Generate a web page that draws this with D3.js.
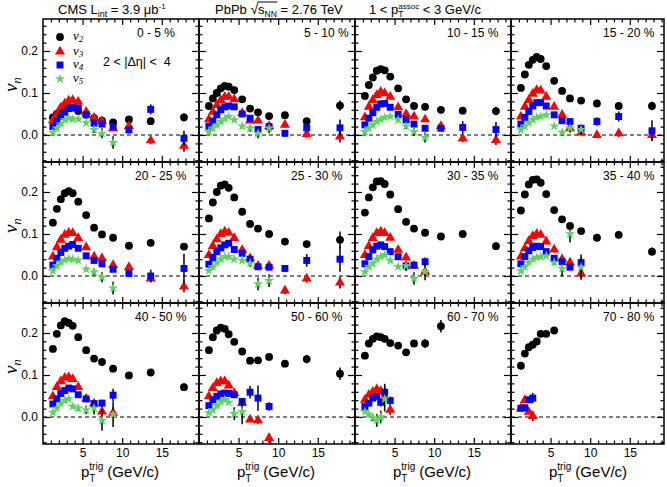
<!DOCTYPE html>
<html><head><meta charset="utf-8">
<script src="https://cdn.jsdelivr.net/npm/d3@7/dist/d3.min.js"></script>
<style>
html,body{margin:0;padding:0;background:#fff;}
svg{display:block;}
text{white-space:pre;}
</style></head><body>
<svg id="chart" width="667" height="487"></svg>
<script>
// ---------------- DATA ----------------
const pT = [1.25, 1.75, 2.25, 2.75, 3.25, 3.75, 4.45, 5.45, 6.45, 7.45, 8.85, 10.85, 13.6, 17.8];
const centralities = ["0 - 5 %","5 - 10 %","10 - 15 %","15 - 20 %","20 - 25 %","25 - 30 %",
                      "30 - 35 %","35 - 40 %","40 - 50 %","50 - 60 %","60 - 70 %","70 - 80 %"];
const xMajorTicks = [5, 10, 15];
const xTickLabels = ["5", "10", "15"];
const yMajorTicks = [0.0, 0.1, 0.2];
const yTickLabels = ["0.0", "0.1", "0.2"];
const seriesNames = ["2", "3", "4", "5"];

const v2 = [
 [0.042,0.050,0.058,0.063,0.066,0.065,0.057,0.048,0.040,0.034,0.030,0.037,0.033,0.042],
 [0.069,0.087,0.100,0.111,0.117,0.115,0.107,0.085,0.063,0.054,0.045,0.047,0.033,0.070],
 [0.093,0.119,0.137,0.153,0.157,0.154,0.139,0.111,0.085,0.069,0.067,0.060,0.058,0.057],
 [0.112,0.144,0.167,0.179,0.186,0.181,0.164,0.129,0.105,0.087,0.082,0.075,0.069,0.069],
 [0.127,0.160,0.183,0.197,0.202,0.197,0.177,0.145,0.115,0.099,0.091,0.072,0.079,0.070],
 [0.137,0.175,0.200,0.215,0.218,0.210,0.187,0.153,0.124,0.113,0.100,0.082,0.076,0.086],
 [0.151,0.187,0.211,0.225,0.226,0.219,0.194,0.159,0.129,0.113,0.103,0.094,0.100,0.071],
 [0.156,0.194,0.218,0.229,0.230,0.222,0.195,0.157,0.135,0.119,0.107,0.091,0.098,0.058],
 [0.162,0.198,0.218,0.228,0.224,0.217,0.190,0.159,0.139,0.131,0.115,0.099,0.106,0.071],
 [0.159,0.190,0.206,0.213,0.210,0.197,0.179,0.156,0.134,0.135,0.143,0.127,0.138,0.103],
 [0.146,0.175,0.186,0.192,0.190,0.186,0.176,0.170,0.154,0.175,0.175,0.216],
 [0.122,0.151,0.166,0.172,0.180,0.198,0.198,0.206]
];
const v2err = [
 [0,0,0,0,0,0,0,0.002,0.003,0.004,0.006,0.006,0.008,0.010],
 [0,0,0,0,0,0,0,0.002,0.003,0.004,0.005,0.006,0.007,0.012],
 [0,0,0,0,0,0,0,0.002,0.003,0.004,0.005,0.006,0.007,0.010],
 [0,0,0,0,0,0,0,0.002,0.003,0.004,0.005,0.006,0.008,0.010],
 [0,0,0,0,0,0,0,0.002,0.003,0.004,0.005,0.006,0.007,0.008],
 [0,0,0,0,0,0,0,0.002,0.003,0.004,0.005,0.006,0.008,0.020],
 [0,0,0,0,0,0,0,0.002,0.003,0.004,0.005,0.006,0.006,0.008],
 [0,0,0,0,0,0,0,0.002,0.003,0.006,0.005,0.006,0.006,0.010],
 [0,0,0,0,0,0,0,0.002,0.003,0.004,0.005,0.005,0.006,0.009],
 [0,0,0,0,0,0,0,0.003,0.004,0.005,0.006,0.007,0.010,0.015],
 [0,0,0,0,0,0,0.003,0.004,0.006,0.008,0.010,0.015],
 [0,0,0,0,0,0,0,0.008]
];
const v3 = [
 [0.035,0.050,0.065,0.075,0.082,0.083,0.079,0.055,0.041,0.033,0.016,0.021,-0.013,-0.026],
 [0.037,0.055,0.071,0.083,0.091,0.091,0.085,0.052,0.034,0.034,0.021,0.024,0.002,-0.004],
 [0.042,0.067,0.083,0.095,0.103,0.099,0.091,0.066,0.050,0.044,0.037,0.021,-0.008,-0.012],
 [0.044,0.067,0.083,0.098,0.107,0.106,0.091,0.067,0.048,0.016,0.006,0.000,0.004,0.000],
 [0.046,0.068,0.086,0.098,0.103,0.102,0.090,0.068,0.046,0.042,0.026,0.021,-0.006,-0.025],
 [0.050,0.071,0.087,0.100,0.106,0.103,0.090,0.062,0.042,0.024,0.024,-0.035,-0.006,-0.016],
 [0.050,0.071,0.090,0.102,0.106,0.102,0.091,0.062,0.044,0.024,0.010],
 [0.046,0.066,0.083,0.095,0.100,0.098,0.082,0.063,0.040,0.032,0.006],
 [0.049,0.071,0.085,0.093,0.095,0.090,0.071,0.043,0.032,0.013,0.010],
 [0.049,0.069,0.081,0.085,0.085,0.075,0.057,0.033,-0.006,-0.008,-0.050],
 [0.041,0.053,0.060,0.066,0.062,0.049,0.017],
 [0.020,0.040,0.012,0.002]
];
const v3err = [
 [0,0,0,0,0,0,0,0.002,0.003,0.004,0.006,0.007,0.009,0.014],
 [0,0,0,0,0,0,0,0.002,0.003,0.004,0.006,0.007,0.008,0.014],
 [0,0,0,0,0,0,0,0.003,0.004,0.005,0.006,0.007,0.009,0.012],
 [0,0,0,0,0,0,0,0.003,0.004,0.005,0.006,0.007,0.009,0.012],
 [0,0,0,0,0,0,0,0.003,0.004,0.005,0.006,0.007,0.009,0.014],
 [0,0,0,0,0,0,0,0.003,0.004,0.006,0.007,0.008,0.010,0.014],
 [0,0,0,0,0,0,0,0.003,0.005,0.007,0.010],
 [0,0,0,0,0,0,0,0.003,0.005,0.007,0.012],
 [0,0,0,0,0,0,0,0.003,0.005,0.015,0.012],
 [0,0,0,0,0,0,0,0.004,0.006,0.008,0.012],
 [0,0,0,0.005,0.008,0.010,0.012],
 [0,0,0.005,0.012]
];
const v4 = [
 [0.020,0.032,0.044,0.054,0.063,0.066,0.064,0.049,0.028,0.026,0.020,0.012,0.061,-0.008],
 [0.021,0.033,0.048,0.060,0.067,0.069,0.067,0.050,0.040,0.013,0.020,0.004,0.017,0.017],
 [0.024,0.040,0.053,0.066,0.074,0.075,0.066,0.049,0.036,0.026,0.016,0.016,0.018,0.013],
 [0.026,0.042,0.056,0.069,0.077,0.077,0.069,0.048,0.034,0.032,0.016,0.032,0.044,0.010],
 [0.026,0.042,0.056,0.066,0.071,0.075,0.066,0.048,0.037,0.029,0.016,0.006,0.000,0.018],
 [0.028,0.044,0.058,0.067,0.074,0.078,0.063,0.054,0.040,0.022,0.021,0.018,0.037,0.040],
 [0.029,0.046,0.062,0.071,0.074,0.070,0.058,0.046,0.024,0.026,0.034],
 [0.029,0.046,0.060,0.068,0.071,0.070,0.058,0.042,0.034,0.021,0.032],
 [0.031,0.043,0.056,0.063,0.069,0.067,0.053,0.043,0.032,0.033,0.052],
 [0.027,0.041,0.049,0.055,0.057,0.056,0.053,0.037,0.059,0.045,0.025],
 [0.025,0.033,0.045,0.049,0.035,0.059,0.039],
 [0.021,0.022,0.041,0.045]
];
const v4err = [
 [0,0,0,0,0,0,0,0.003,0.004,0.005,0.007,0.008,0.012,0.018],
 [0,0,0,0,0,0,0,0.003,0.004,0.005,0.008,0.008,0.010,0.020],
 [0,0,0,0,0,0,0,0.003,0.004,0.005,0.006,0.007,0.015,0.018],
 [0,0,0,0,0,0,0,0.003,0.004,0.006,0.007,0.010,0.012,0.025],
 [0,0,0,0,0,0,0,0.003,0.004,0.005,0.006,0.008,0.015,0.035],
 [0,0,0,0,0,0,0,0.003,0.004,0.006,0.007,0.008,0.015,0.030],
 [0,0,0,0,0,0,0,0.003,0.005,0.007,0.010],
 [0,0,0,0,0,0,0,0.003,0.005,0.006,0.012],
 [0,0,0,0,0,0,0,0.004,0.006,0.008,0.015],
 [0,0,0,0,0,0,0,0.008,0.015,0.030,0.010],
 [0,0,0.003,0.005,0.010,0.020,0.010],
 [0,0,0.005,0.012]
];
const v5 = [
 [0.006,0.016,0.026,0.036,0.040,0.038,0.038,0.029,0.013,0.004,-0.018],
 [0.008,0.016,0.024,0.032,0.038,0.044,0.036,0.021,0.016,0.004,0.016],
 [0.008,0.016,0.024,0.032,0.037,0.042,0.044,0.036,0.021,0.008,-0.006],
 [0.012,0.021,0.029,0.037,0.042,0.044,0.048,0.021,0.006,0.016,0.013],
 [0.012,0.024,0.033,0.038,0.041,0.040,0.037,0.016,0.010,-0.003,-0.029],
 [0.013,0.022,0.032,0.040,0.046,0.046,0.040,0.037,0.030,-0.019,-0.011],
 [0.010,0.022,0.030,0.040,0.046,0.050,0.037,0.022,0.024,-0.006,0.010],
 [0.012,0.022,0.032,0.040,0.044,0.046,0.048,0.032,0.018,0.100,0.021],
 [0.011,0.021,0.032,0.039,0.043,0.025,0.021,0.017,0.021,-0.008,0.006],
 [0.010,0.017,0.027,0.037,0.041,0.035,0.008,0.013],
 [0.013,0.006,-0.002,-0.008,0.000,0.043],
 []
];
const v5err = [
 [0,0,0,0,0,0,0,0.005,0.008,0.012,0.015],
 [0,0,0,0,0,0,0,0.005,0.008,0.012,0.012],
 [0,0,0,0,0,0,0,0.004,0.007,0.010,0.012],
 [0,0,0,0,0,0,0,0.004,0.007,0.010,0.012],
 [0,0,0,0,0,0,0,0.005,0.008,0.012,0.015],
 [0,0,0,0,0,0,0,0.005,0.008,0.015,0.015],
 [0,0,0,0,0,0,0,0.005,0.012,0.015,0.020],
 [0,0,0,0,0,0,0,0.006,0.018,0.020,0.030],
 [0,0,0,0,0,0,0.006,0.010,0.015,0.025,0.030],
 [0,0,0,0,0,0,0.015,0.030],
 [0,0.004,0.008,0.015,0.015,0.030],
 []
];

// ---------------- LAYOUT ----------------
const SANS = '"Liberation Sans", Arial, Helvetica, sans-serif';
const SERIF = '"Liberation Serif", "Times New Roman", serif';
const colEdges = [43, 199, 355, 511, 664];
const rowEdges = [19, 162, 303, 444];
const pxPerGeV = 7.92, pxPerUnit = 420, yLow = -0.0643;

const series = [
  {vals: v2, errs: v2err, sym: d3.symbolCircle,   size: 48, color: "#000000"},
  {vals: v3, errs: v3err, sym: d3.symbolTriangle, size: 44, color: "#ff0000"},
  {vals: v4, errs: v4err, sym: d3.symbolSquare,   size: 48, color: "#0000ff"},
  {vals: v5, errs: v5err, sym: d3.symbolStar,     size: 32, color: "#5fd35f"}
];

const svg = d3.select("#chart");
svg.append("rect").attr("width", 667).attr("height", 487).attr("fill", "#fff");

function rich(parent, x, y, pieces, anchor) {
  const g = parent.append("g");
  let cx = 0, pend = 0;
  const info = [];
  pieces.forEach(p => {
    const t = g.append("text").attr("x", cx).attr("y", p.dy || 0)
      .attr("xml:space", "preserve")
      .attr("font-size", p.fs).attr("font-family", p.fam || SANS)
      .attr("font-style", p.it ? "italic" : "normal").attr("fill", "#000")
      .text(p.t);
    const w = t.node().getComputedTextLength();
    info.push({x: cx, w: w, node: t.node()});
    if (p.hold) pend = Math.max(pend, w);
    else { cx += Math.max(w, pend); pend = 0; }
  });
  const dx = anchor === "middle" ? -cx / 2 : anchor === "end" ? -cx : 0;
  g.attr("transform", `translate(${x + dx},${y})`);
  return {g, info, dx};
}

const isMajor = (v, step) => Math.abs(v / step - Math.round(v / step)) < 1e-6;

centralities.forEach((lab, i) => {
  const c = i % 4, r = Math.floor(i / 4);
  const x0 = colEdges[c], x1 = colEdges[c + 1], y0 = rowEdges[r], y1 = rowEdges[r + 1];
  const x = d3.scaleLinear().domain([0, (x1 - x0) / pxPerGeV]).range([x0, x1]);
  const y = d3.scaleLinear().domain([yLow, yLow + (y1 - y0) / pxPerUnit]).range([y1, y0]);
  const g = svg.append("g");

  const clipId = "clip" + i;
  g.append("clipPath").attr("id", clipId).append("rect")
    .attr("x", x0).attr("y", y0).attr("width", x1 - x0).attr("height", y1 - y0);

  // zero line
  g.append("line").attr("x1", x0).attr("x2", x1).attr("y1", y(0)).attr("y2", y(0))
    .attr("stroke", "#000").attr("stroke-width", 1.1).attr("stroke-dasharray", "4,3");

  const plot = g.append("g").attr("clip-path", `url(#${clipId})`);
  series.forEach(s => {
    const vals = s.vals[i], errs = s.errs[i];
    const pts = vals.map((v, k) => ({x: pT[k], v: v, e: errs[k] || 0})).filter(d => d.v !== null);
    const sg = plot.append("g");
    sg.selectAll("line.err").data(pts.filter(d => d.e > 0)).join("line")
      .attr("x1", d => x(d.x)).attr("x2", d => x(d.x))
      .attr("y1", d => y(d.v - d.e)).attr("y2", d => y(d.v + d.e))
      .attr("stroke", "#000").attr("stroke-width", 1.5);
    sg.selectAll("path").data(pts).join("path")
      .attr("d", d3.symbol(s.sym, s.size))
      .attr("transform", d => `translate(${x(d.x)},${y(d.v)})`)
      .attr("fill", s.color);
  });

  // axes (ticks inward on all sides)
  const xMinor = d3.range(1, Math.floor(x.domain()[1]) + 1).filter(v => !isMajor(v, 5));
  const yMinor = d3.range(-0.06, y.domain()[1], 0.02).map(v => Math.round(v * 100) / 100)
                   .filter(v => !isMajor(v, 0.1));
  const style = sel => {
    sel.select(".domain").remove();
    sel.selectAll("line").attr("stroke", "#000").attr("stroke-width", 1.2);
    sel.selectAll("text").attr("font-family", SANS).attr("font-size", 12).attr("fill", "#000");
  };
  const showX = r === 2, showY = c === 0;
  g.append("g").attr("transform", `translate(0,${y1})`)
    .call(d3.axisBottom(x).tickValues(xMajorTicks).tickSize(-6).tickPadding(4.5)
      .tickFormat((d, k) => showX ? xTickLabels[k] : "")).call(style);
  g.append("g").attr("transform", `translate(0,${y1})`)
    .call(d3.axisBottom(x).tickValues(xMinor).tickSize(-3.5).tickFormat("")).call(style);
  g.append("g").attr("transform", `translate(0,${y0})`)
    .call(d3.axisTop(x).tickValues(xMajorTicks).tickSize(-6).tickFormat("")).call(style);
  g.append("g").attr("transform", `translate(0,${y0})`)
    .call(d3.axisTop(x).tickValues(xMinor).tickSize(-3.5).tickFormat("")).call(style);
  g.append("g").attr("transform", `translate(${x0},0)`)
    .call(d3.axisLeft(y).tickValues(yMajorTicks).tickSize(-7).tickPadding(5)
      .tickFormat((d, k) => showY ? yTickLabels[k] : "")).call(style);
  g.append("g").attr("transform", `translate(${x0},0)`)
    .call(d3.axisLeft(y).tickValues(yMinor).tickSize(-3.5).tickFormat("")).call(style);
  g.append("g").attr("transform", `translate(${x1},0)`)
    .call(d3.axisRight(y).tickValues(yMajorTicks).tickSize(-7).tickFormat("")).call(style);
  g.append("g").attr("transform", `translate(${x1},0)`)
    .call(d3.axisRight(y).tickValues(yMinor).tickSize(-3.5).tickFormat("")).call(style);

  // frame
  g.append("rect").attr("x", x0).attr("y", y0).attr("width", x1 - x0).attr("height", y1 - y0)
    .attr("fill", "none").attr("stroke", "#000").attr("stroke-width", 1.5);

  // centrality label
  const off = i === 0 ? 94 : (i === 1 ? 105 : 92);
  g.append("text").attr("x", x0 + off).attr("y", y0 + 18)
    .attr("font-family", SANS).attr("font-size", 12).attr("fill", "#000").text(lab);

  // y title per row
  if (c === 0) {
    const yt = svg.append("g").attr("transform", `translate(17,${y(0.12)}) rotate(-90)`);
    rich(yt, 0, 0, [{t: "ν", fs: 19, fam: SERIF, it: true}, {t: "n", fs: 13, fam: SERIF, it: true, dy: 3.5}], "middle");
  }
  // x title per column
  if (r === 2) {
    rich(svg, x0 + 77, 477, [{t: "p", fs: 15}, {t: "T", fs: 10, dy: 5, hold: true},
      {t: "trig", fs: 10, dy: -7}, {t: " (GeV/c)", fs: 15}], "middle");
  }
});

// legend
const legY = [37, 51.5, 65, 79];
series.forEach((s, k) => {
  svg.append("path").attr("d", d3.symbol(s.sym, s.size)).attr("transform", `translate(60,${legY[k]})`)
    .attr("fill", s.color);
  rich(svg, 73, legY[k] + 3, [{t: "ν", fs: 13, fam: SERIF, it: true},
    {t: seriesNames[k], fs: 9, fam: SERIF, it: true, dy: 2}], "start");
});
svg.append("text").attr("x", 103).attr("y", 66).attr("font-family", SANS).attr("font-size", 12.5)
  .attr("fill", "#000").attr("xml:space", "preserve").text("2 < |Δη| <  4");

// header texts
const HY = 13.5;
rich(svg, 58, HY, [{t: "CMS L", fs: 13}, {t: "int", fs: 9, dy: 3}, {t: " = 3.9 μb", fs: 13}, {t: "-1", fs: 8, dy: -5}], "start");
const h2 = rich(svg, 215, HY, [{t: "PbPb ", fs: 13}, {t: "√", fs: 14}, {t: "s", fs: 13}, {t: "NN", fs: 8.5, dy: 3},
  {t: " = 2.76 TeV", fs: 13}], "start");
{
  const sq = h2.info[1], nn = h2.info[3];
  const bb = sq.node.getBBox();
  h2.g.append("line").attr("x1", sq.x + sq.w - 1).attr("x2", nn.x + nn.w + 0.5)
    .attr("y1", bb.y + 1.5).attr("y2", bb.y + 1.5).attr("stroke", "#000").attr("stroke-width", 1);
}
rich(svg, 369, HY, [{t: "1 < p", fs: 13}, {t: "T", fs: 8.5, dy: 3.5, hold: true}, {t: "assoc", fs: 8, dy: -5},
  {t: " < 3 GeV/c", fs: 13}], "start");
</script></body></html>
